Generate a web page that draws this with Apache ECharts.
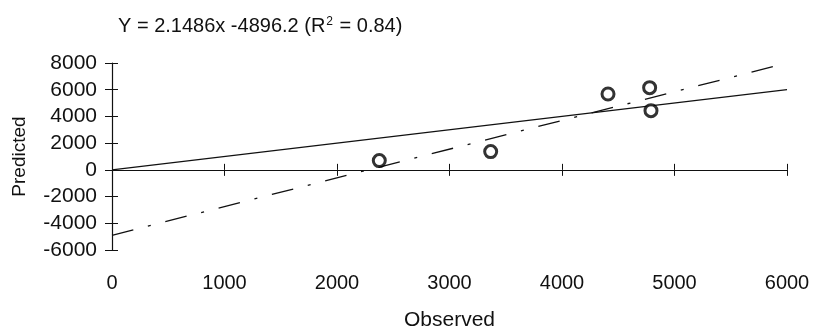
<!DOCTYPE html>
<html>
<head>
<meta charset="utf-8">
<script src="https://cdn.jsdelivr.net/npm/echarts@6/dist/echarts.min.js"></script>
<style>
  html, body { margin: 0; padding: 0; background: #fff; }
  #pic { width: 814px; height: 329px; }
</style>
</head>
<body>
<div id="pic"></div>
<script>
var observed = [2376, 3366, 4409, 4779, 4791];
var predicted = [695, 1368, 5682, 6153, 4434];
var xTicks = [0, 1000, 2000, 3000, 4000, 5000, 6000];
var yTicks = [-6000, -4000, -2000, 0, 2000, 4000, 6000, 8000];
var slope = 2.1486;
var intercept = -4896.2;
var r2 = 0.84;

var font = 'Liberation Sans, Arial, sans-serif';
var points = observed.map(function (v, i) { return [v, predicted[i]]; });
var xMin = xTicks[0], xMax = xTicks[xTicks.length - 1];
var identity = [[xMin, xMin], [xMax, xMax]];
var fitted = [[xMin, slope * xMin + intercept], [xMax, slope * xMax + intercept]];

function plain(v) { return String(v); }

function baseX(extra) {
    var a = {
        type: 'value', min: xMin, max: xMax, interval: 1000,
        splitLine: { show: false },
        axisLabel: { show: false },
        axisTick: { show: false },
        axisLine: { show: false }
    };
    for (var k in extra) a[k] = extra[k];
    return a;
}
function baseY(extra) {
    var a = {
        type: 'value', min: yTicks[0], max: yTicks[yTicks.length - 1], interval: 2000,
        position: 'left',
        splitLine: { show: false },
        axisLabel: { show: false },
        axisTick: { show: false },
        axisLine: { show: false }
    };
    for (var k in extra) a[k] = extra[k];
    return a;
}

var myChart = echarts.init(document.getElementById('pic'));
var option = {
    animation: false,
    backgroundColor: '#fff',
    title: {
        text: 'Y = ' + slope + 'x ' + intercept + ' (R{sup|2} = ' + r2 + ')',
        left: 113,
        top: 11,
        textStyle: {
            fontFamily: font, fontSize: 20, fontWeight: 'normal', color: '#111',
            rich: { sup: { fontFamily: font, fontSize: 12, verticalAlign: 'top', padding: [0, 1, 8, 1], color: '#111' } }
        }
    },
    grid: { left: 112, right: 27, top: 63, bottom: 79, containLabel: false, outerBoundsMode: 'none' },
    xAxis: [
        baseX({
            position: 'bottom',
            name: 'Observed', nameLocation: 'middle', nameGap: 60,
            nameTextStyle: { fontFamily: font, fontSize: 21, color: '#111' },
            axisLabel: { show: true, margin: 23, fontFamily: font, fontSize: 20, color: '#111', formatter: plain }
        }),
        baseX({
            position: 'bottom',
            axisLine: { show: true, onZero: true, onZeroAxisIndex: 0, lineStyle: { color: '#111', width: 1.2 } },
            axisTick: { show: true, inside: false, length: 6, lineStyle: { color: '#111', width: 1 } }
        }),
        baseX({
            position: 'bottom',
            axisLine: { show: false, onZero: true, onZeroAxisIndex: 0 },
            axisTick: { show: true, inside: true, length: 6, lineStyle: { color: '#111', width: 1 } }
        })
    ],
    yAxis: [
        baseY({
            name: 'Predicted', nameLocation: 'middle', nameGap: 83, nameRotate: 90,
            nameTextStyle: { fontFamily: font, fontSize: 19, color: '#111' },
            axisLine: { show: true, onZero: false, lineStyle: { color: '#111', width: 1.2 } },
            axisTick: { show: true, inside: false, length: 7, lineStyle: { color: '#111', width: 1 } },
            axisLabel: { show: true, margin: 15, fontFamily: font, fontSize: 21, color: '#111', formatter: plain }
        }),
        baseY({
            axisLine: { show: false, onZero: false },
            axisTick: { show: true, inside: true, length: 6, lineStyle: { color: '#111', width: 1 } }
        })
    ],
    series: [
        {
            type: 'line',
            data: identity,
            symbol: 'none',
            lineStyle: { color: '#111', width: 1.3, type: 'solid' },
            z: 2
        },
        {
            type: 'line',
            data: fitted,
            symbol: 'none',
            lineStyle: { color: '#111', width: 1.3, type: [22, 15, 3, 15] },
            z: 2
        },
        {
            type: 'scatter',
            data: points,
            symbol: 'circle',
            symbolSize: 12,
            itemStyle: { color: '#fff', borderColor: '#000', borderWidth: 3 },
            z: 5
        }
    ]
};
myChart.setOption(option);
</script>
</body>
</html>
